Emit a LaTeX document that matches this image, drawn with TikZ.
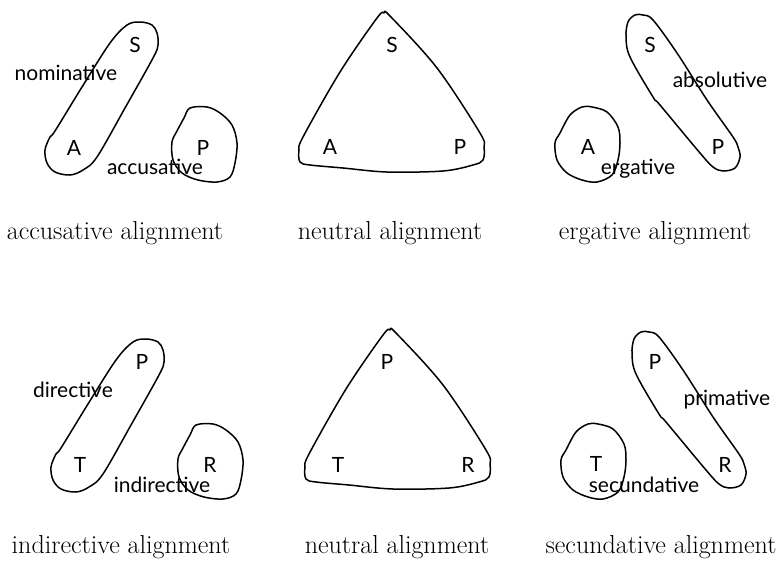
\documentclass[tikz,border=0pt]{standalone}
\usepackage{fontspec}
\newfontfamily\rolefont{Lato}

\tikzset{every picture/.style={line width=0.75pt}}

% hand-drawn outlines of one row (top row coordinates)
\newcommand{\rowoutlines}{%
  % left pair
  \draw [outline] plot [smooth cycle] coordinates {(127,25) (140,22) (152,25) (157,33) (158,45) (153,58) (125,108) (97,157) (83,170) (70,175) (55,172) (47,163) (45,150) (50,137) (55,131) (82,87) (110,43)};
  \draw [outline] plot [smooth cycle] coordinates {(190,108) (207,107) (220,113) (232,125) (237,143) (235,163) (230,177) (217,182) (198,180) (182,173) (173,160) (172,142) (177,131) (184,118)};
  % middle triangle
  \draw [outline] plot [smooth cycle] coordinates {(384,13) (390,16) (437,68) (480,133) (484,147) (483,160) (473,165) (443,171) (387,172) (343,168) (310,165) (300,162) (299,150) (303,137) (340,72) (377,18)};
  % right pair
  \draw [outline] plot [smooth cycle] coordinates {(635,15) (643,15) (653,20) (677,53) (707,100) (733,137) (738,147) (740,157) (735,168) (723,171) (713,167) (700,153) (660,105) (653,97) (630,57) (626,37) (628,22)};
  \draw [outline] plot [smooth cycle] coordinates {(582,107) (592,107) (607,112) (618,127) (620,143) (618,160) (612,175) (597,182) (582,180) (567,173) (557,160) (555,143) (560,133) (570,115)};
}

\begin{document}
\begin{tikzpicture}[
            x=1pt,
            y=1pt,
            yscale=-1,
            every node/.style={text=black},
            role/.style={font=\rolefont\fontsize{21}{21}\selectfont, inner sep=0pt, anchor=base},
            caption/.style={font=\fontsize{26}{26}\selectfont, inner sep=0pt, anchor=base},
            outline/.style={draw=black, line width=1.5pt, line join=round, line cap=round, tension=0.55}
        ]
            \useasboundingbox (0,0) rectangle (782,562);

            \rowoutlines
            \begin{scope}[shift={(6,317)}]
                \rowoutlines
            \end{scope}

            % accusative
            \node [role] (accS) at (135,52) {S};
            \node [role] (accA) at (74,155) {A};
            \node [role] (accP) at (203,155) {P};
            \node [role] (accNom) at (66,80) {nominative};
            \node [role] (accAcc) at (155,174) {accusative};
            \node [caption] (accCap) at (115,239) {accusative alignment};

            % neutral
            \node [role] (neuS) at (392,52) {S};
            \node [role] (neuA) at (330,154) {A};
            \node [role] (neuP) at (460,154) {P};
            \node [caption] (neuCap) at (390,239) {neutral alignment};

            % ergative
            \node [role] (ergS) at (650,52) {S};
            \node [role] (ergA) at (588,154) {A};
            \node [role] (ergP) at (718,154) {P};
            \node [role] (ergAbs) at (720,87) {absolutive};
            \node [role] (ergErg) at (638,174) {ergative};
            \node [caption] (ergCap) at (655,239) {ergative alignment};

            % indirective
            \node [role] (indP) at (142,369) {P};
            \node [role] (indT) at (80,472) {T};
            \node [role] (indR) at (210,472) {R};
            \node [role] (indDir) at (73,397) {directive};
            \node [role] (indInd) at (162,492) {indirective};
            \node [caption] (indCap) at (121,553) {indirective alignment};

            % neutral (ditransitive)
            \node [role] (dneuP) at (387,369) {P};
            \node [role] (dneuT) at (338,472) {T};
            \node [role] (dneuR) at (468,472) {R};
            \node [caption] (dneuCap) at (397,553) {neutral alignment};

            % secundative
            \node [role] (secP) at (655,369) {P};
            \node [role] (secT) at (596,471) {T};
            \node [role] (secR) at (725,472) {R};
            \node [role] (secPrim) at (727,405) {primative};
            \node [role] (secSec) at (644,492) {secundative};
            \node [caption] (secCap) at (661,553) {secundative alignment};
        \end{tikzpicture}
\end{document}
